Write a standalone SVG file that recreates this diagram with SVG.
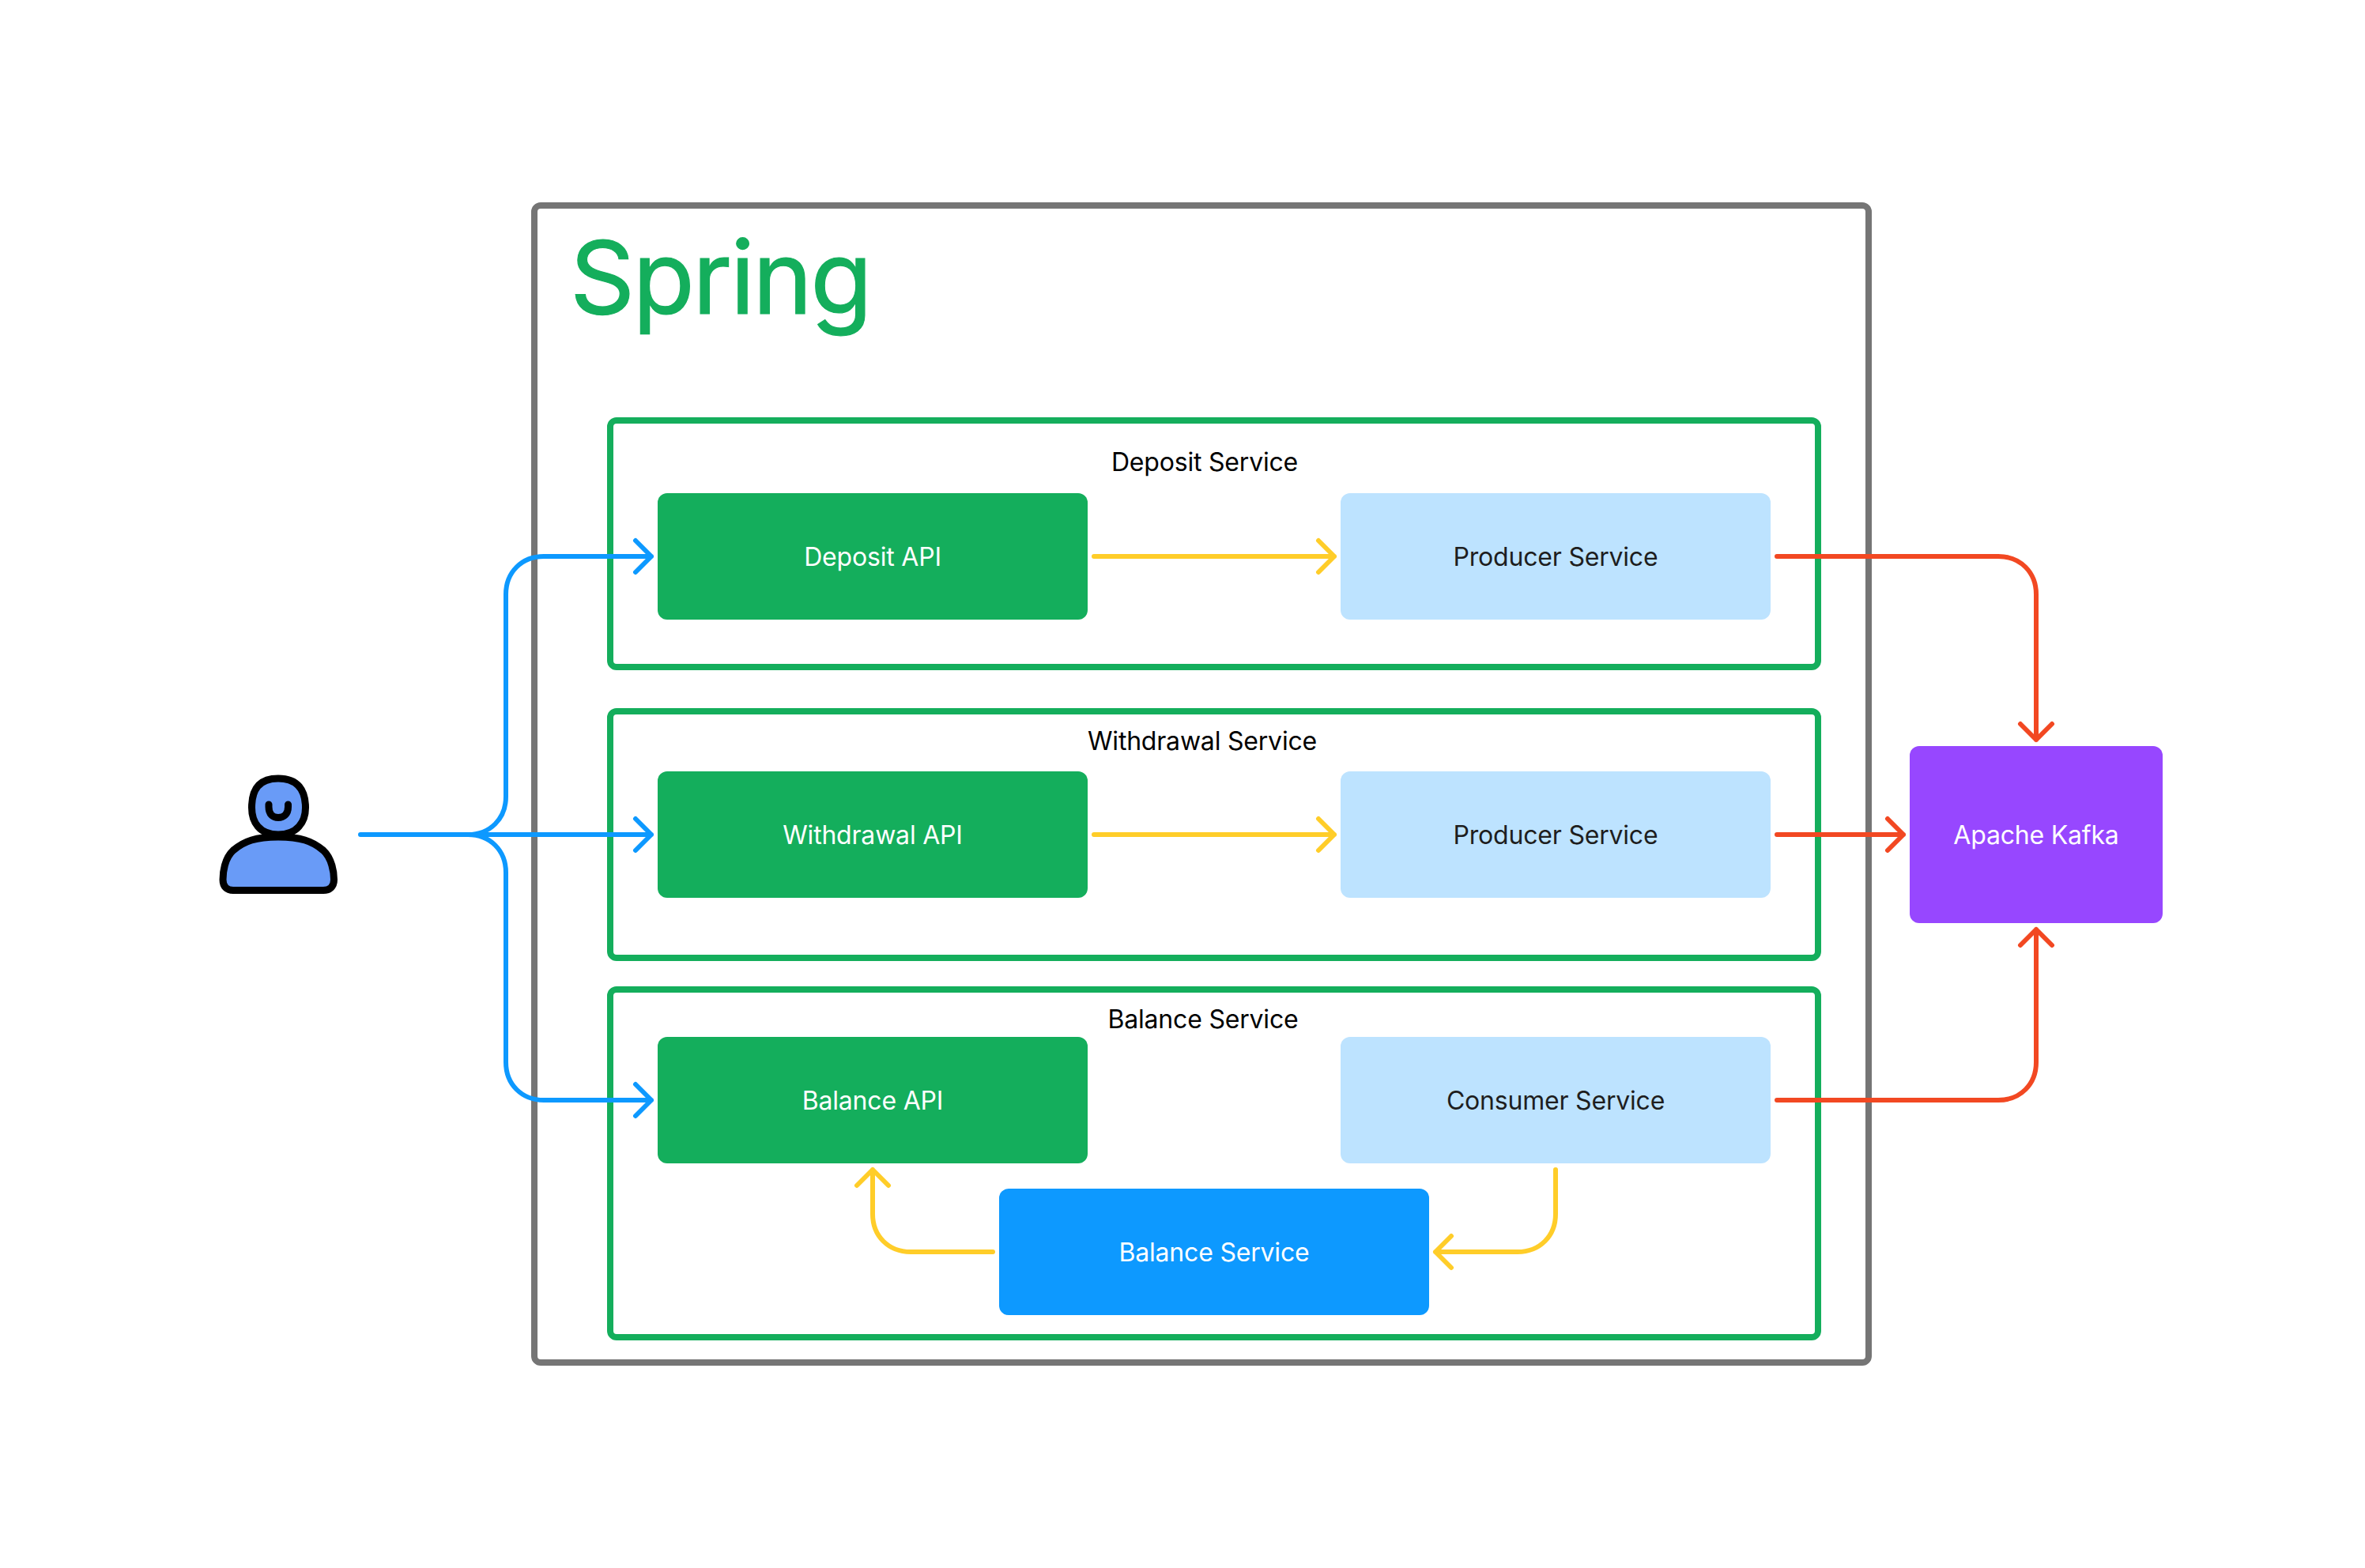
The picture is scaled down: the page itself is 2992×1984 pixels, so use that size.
<svg xmlns="http://www.w3.org/2000/svg" width="2992" height="1984" viewBox="0 0 2992 1984">
<style>
text{font-family:Inter,"Noto Sans","Liberation Sans",sans-serif;font-size:32px;text-anchor:middle;font-optical-sizing:none;letter-spacing:-0.2px}
.frame{fill:none;stroke-width:8}
.node{stroke:none}
.w{fill:#fff}
.k{fill:#000}
.d{fill:#1e1e1e}
.c{fill:none;stroke-width:6;stroke-linecap:round;stroke-linejoin:round}
.b{stroke:#0d99ff}.y{stroke:#ffcd29}.r{stroke:#f24822}
.person{fill:#699bf7;stroke:#000;stroke-width:9;stroke-linejoin:round;stroke-linecap:round}
</style>
<rect width="2992" height="1984" fill="#fff"/>
<g id="spring"><rect class="frame" x="676" y="260" width="1688" height="1464" rx="8" stroke="#757575"/>
<text x="721" y="397" style="font-size:128px;text-anchor:start;fill:#14ae5c;stroke:#14ae5c;stroke-width:1.2px;letter-spacing:-2.6px">Spring</text></g>
<g id="deposit-group"><rect class="frame" x="772" y="532" width="1528" height="312" rx="8" stroke="#14ae5c"/><text class="k" x="1524" y="596">Deposit Service</text></g>
<g id="withdrawal-group"><rect class="frame" x="772" y="900" width="1528" height="312" rx="8" stroke="#14ae5c"/><text class="k" x="1521" y="949">Withdrawal Service</text></g>
<g id="balance-group"><rect class="frame" x="772" y="1252" width="1528" height="440" rx="8" stroke="#14ae5c"/><text class="k" x="1522" y="1301">Balance Service</text></g>
<g id="deposit-api"><rect class="node" x="832" y="624" width="544" height="160" rx="12" fill="#14ae5c"/><text class="w" x="1104" y="716">Deposit API</text></g>
<g id="producer-1"><rect class="node" x="1696" y="624" width="544" height="160" rx="12" fill="#bde3ff"/><text class="d" x="1968" y="716">Producer Service</text></g>
<g id="withdrawal-api"><rect class="node" x="832" y="976" width="544" height="160" rx="12" fill="#14ae5c"/><text class="w" x="1104" y="1068">Withdrawal API</text></g>
<g id="producer-2"><rect class="node" x="1696" y="976" width="544" height="160" rx="12" fill="#bde3ff"/><text class="d" x="1968" y="1068">Producer Service</text></g>
<g id="balance-api"><rect class="node" x="832" y="1312" width="544" height="160" rx="12" fill="#14ae5c"/><text class="w" x="1104" y="1404">Balance API</text></g>
<g id="consumer"><rect class="node" x="1696" y="1312" width="544" height="160" rx="12" fill="#bde3ff"/><text class="d" x="1968" y="1404">Consumer Service</text></g>
<g id="balance-service"><rect class="node" x="1264" y="1504" width="544" height="160" rx="12" fill="#0d99ff"/><text class="w" x="1536" y="1596">Balance Service</text></g>
<g id="kafka"><rect class="node" x="2416" y="944" width="320" height="224" rx="12" fill="#9747ff"/><text class="w" x="2576" y="1068">Apache Kafka</text></g>
<g id="user" class="person">
<path d="M352 985C377 985 386.500 1000 386.500 1022C386.500 1040 376 1056 352 1056C328 1056 318.500 1040 318.500 1022C318.500 1000 327 985 352 985Z"/>
<path d="M352 1059C380 1059 395 1064 409 1076C420 1086 422.500 1104 422.500 1113C422.500 1122 417 1126.500 409 1126.500H295C287 1126.500 282 1122 282 1113C282 1104 284 1086 295 1076C309 1064 324 1059 352 1059Z"/>
<path d="M340 1018V1021C340 1030 345 1034.500 352 1034.500C359 1034.500 364.500 1030 364.500 1021V1018" fill="none"/>
</g>
<g id="connectors">
<path class="c b" d="M456 1056H824M804 1036L824 1056L804 1076"/>
<path class="c b" d="M592 1056C620 1056 640 1036 640 1008V752C640 724 660 704 688 704H824M804 684L824 704L804 724"/>
<path class="c b" d="M592 1056C620 1056 640 1076 640 1104V1344C640 1372 660 1392 688 1392H824M804 1372L824 1392L804 1412"/>
<path class="c y" d="M1384 704H1688M1668 684L1688 704L1668 724"/>
<path class="c y" d="M1384 1056H1688M1668 1036L1688 1056L1668 1076"/>
<path class="c y" d="M1968 1480V1536C1968 1564 1948 1584 1920 1584H1816M1836 1564L1816 1584L1836 1604"/>
<path class="c y" d="M1256 1584H1152C1124 1584 1104 1564 1104 1536V1480M1084 1500L1104 1480L1124 1500"/>
<path class="c r" d="M2248 704H2528C2556 704 2576 724 2576 752V936M2556 916L2576 936L2596 916"/>
<path class="c r" d="M2248 1056H2408M2388 1036L2408 1056L2388 1076"/>
<path class="c r" d="M2248 1392H2528C2556 1392 2576 1372 2576 1344V1176M2556 1196L2576 1176L2596 1196"/>
</g>
</svg>
